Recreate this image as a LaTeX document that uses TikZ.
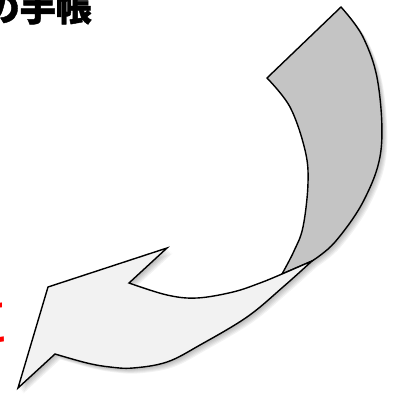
\documentclass[tikz,border=0pt]{standalone}
\usepackage{fontspec}
\newfontfamily\cjk{Noto Sans CJK JP}
\begin{document}
\begin{tikzpicture}[x=1pt,y=-1pt,
  outline/.style={draw=black,line width=1.4pt,line join=miter},
  shade/.style={fill=black,opacity=0.05}]
\useasboundingbox (0,0) rectangle (395,397);
\def\darkshape{plot[smooth,tension=0.6] coordinates {(341,7) (363,37) (378,83) (381,150) (364,200) (335,242) (312,261)} -- (282,274) -- plot[smooth,tension=0.6] coordinates {(282,274) (294,251) (303,227) (308,183) (305,150) (290,107) (267,78)} -- cycle}
\def\lightshape{(18,388) -- (48,287) -- (167,248) -- (129,283) -- plot[smooth,tension=0.6] coordinates {(129,283) (167,295) (197,298) (233,292) (260,283) (282,274) (312,261)} -- plot[smooth,tension=0.6] coordinates {(312,261) (283,287) (247,317) (200,345) (167,362) (133,368) (110,367) (87,363) (55,354)} -- cycle}
% shadows of the back part
\foreach \i in {1,...,6}{
  \fill[shade,shift={(\i*0.9,\i*0.9)}] \darkshape;
}
\path[outline,fill={rgb,255:red,196;green,196;blue,196}] \darkshape;
% shadows of the front part
\foreach \i in {1,...,6}{
  \fill[shade,shift={(\i*0.9,\i*0.9)}] \lightshape;
}
\path[outline,fill={rgb,255:red,242;green,242;blue,242}] \lightshape;
% texts
\node[anchor=base east,inner sep=0pt,font=\cjk\bfseries\addfontfeatures{FakeBold=1.2}\fontsize{36}{36}\selectfont] (title) at (92,21) {の手帳};
\node[anchor=base east,inner sep=0pt,text=red,font=\cjk\fontsize{60}{60}\selectfont] (note) at (11,343) {に};
\end{tikzpicture}
\end{document}
